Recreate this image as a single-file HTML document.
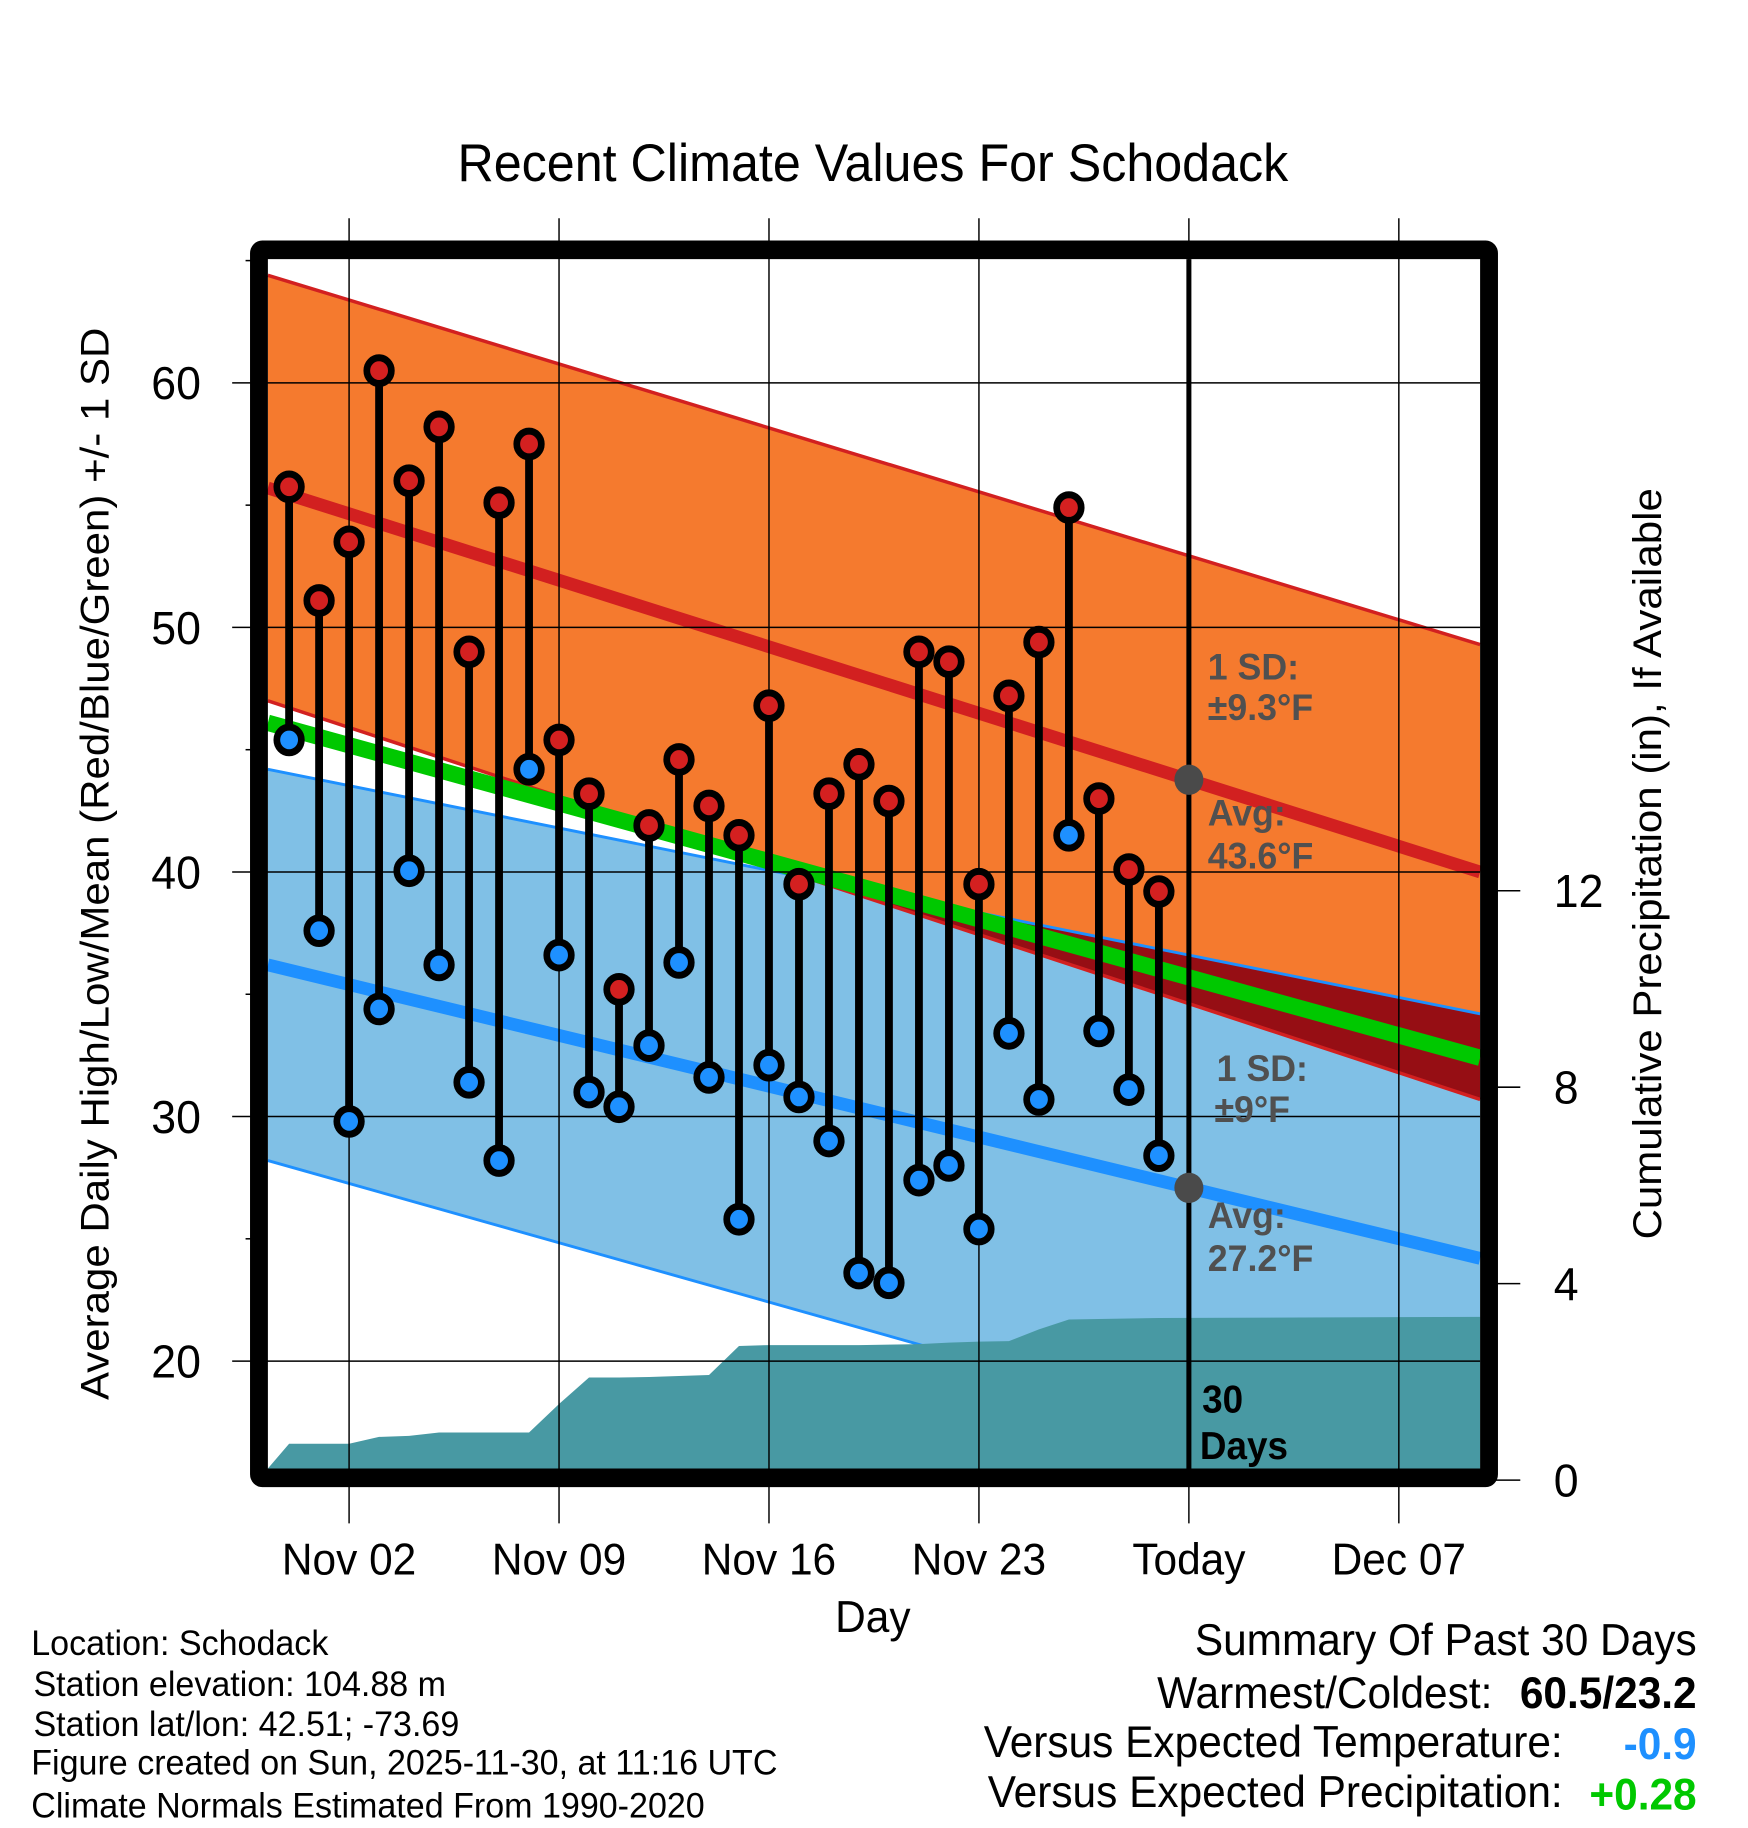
<!DOCTYPE html>
<html><head><meta charset="utf-8"><style>
html,body{margin:0;padding:0;background:#fff;}
svg{display:block;}
text{font-family:"Liberation Sans",Arial,sans-serif;}
</style></head><body>
<svg id="chart" width="1748" height="1828" viewBox="0 0 1566 1566" preserveAspectRatio="none" xmlns="http://www.w3.org/2000/svg">
<defs><clipPath id="plotclip"><rect x="236" y="218" width="1094" height="1044"/></clipPath></defs>
<g id="layer-bg" clip-path="url(#plotclip)"></g>
<g id="layer-grid"></g>
<g id="layer-marks"></g>
<g id="layer-frame"></g>
<text x="782" y="155" font-size="45" text-anchor="middle">Recent Climate Values For Schodack</text>
<text transform="translate(97,740) rotate(-90)" font-size="36" text-anchor="middle">Average Daily High/Low/Mean (Red/Blue/Green) +/- 1 SD</text>
<text transform="translate(1488,740) rotate(-90)" font-size="36" text-anchor="middle">Cumulative Precipitation (in), If Available</text>
<text x="782" y="1398" font-size="38" text-anchor="middle">Day</text>
<g font-size="32" font-weight="bold" fill="#505050">
<text x="1082" y="582">1 SD:</text><text x="1082" y="617">±9.3°F</text>
<text x="1082" y="707">Avg:</text><text x="1082" y="744">43.6°F</text>
<text x="1090" y="926">1 SD:</text><text x="1088" y="961">±9°F</text>
<text x="1082" y="1052">Avg:</text><text x="1082" y="1089">27.2°F</text>
</g>
<text x="1077" y="1210" font-size="33" font-weight="bold">30</text>
<text x="1075" y="1250" font-size="33" font-weight="bold">Days</text>
<g font-size="30.5">
<text x="28" y="1418">Location: Schodack</text>
<text x="30" y="1453">Station elevation: 104.88 m</text>
<text x="30" y="1487">Station lat/lon: 42.51; -73.69</text>
<text x="28" y="1520">Figure created on Sun, 2025-11-30, at 11:16 UTC</text>
<text x="28" y="1557">Climate Normals Estimated From 1990-2020</text>
</g>
<g font-size="38">
<text x="1520" y="1418" text-anchor="end">Summary Of Past 30 Days</text>
<text x="1337" y="1463" text-anchor="end">Warmest/Coldest:</text>
<text x="1520" y="1463" text-anchor="end" font-weight="bold">60.5/23.2</text>
<text x="1400" y="1505" text-anchor="end">Versus Expected Temperature:</text>
<text x="1520" y="1507" text-anchor="end" font-weight="bold" fill="#1e90ff">-0.9</text>
<text x="1400" y="1548" text-anchor="end">Versus Expected Precipitation:</text>
<text x="1520" y="1550" text-anchor="end" font-weight="bold" fill="#00c800">+0.28</text>
</g>
</svg>
<script>
// data (day index 0 = Oct 31)
const highs=[55.75,51.1,53.5,60.5,56.0,58.2,49.0,55.1,57.5,45.4,43.2,35.2,41.9,44.6,42.7,41.5,46.8,39.5,43.2,44.4,42.9,49.0,48.6,39.5,47.2,49.4,54.9,43.0,40.1,39.2];
const lows=[45.4,37.6,29.8,34.4,40.05,36.2,31.4,28.2,44.2,36.6,31.0,30.4,32.9,36.3,31.6,25.8,32.1,30.8,29.0,23.6,23.2,27.4,28.0,25.4,33.4,30.7,41.5,33.5,31.1,28.4];
const precip=[0.74,0.74,0.74,0.88,0.90,0.97,0.97,0.97,0.97,1.55,2.09,2.09,2.10,2.12,2.14,2.73,2.75,2.75,2.75,2.75,2.76,2.77,2.80,2.82,2.83,3.07,3.27,3.28,3.29,3.30];
const normalHigh=[55.7,40.0];   // at plot start / end
const normalHighSD=[8.7,9.3];
const normalLow=[36.2,24.2];
const normalLowSD=[8.0,10.0];
const normalMean=[46.1,32.4];
const yTicks=[20,30,40,50,60];
const yMinor=[25,35,45,55,65];
const pTicks=[0,4,8,12];
const xTickDays=[2,9,16,23,30,37]; // days since Oct 31
const xTickLabels=["Nov 02","Nov 09","Nov 16","Nov 23","Today","Dec 07"];

const NS="http://www.w3.org/2000/svg";
const L=240,R=1326,T=222,B=1258;
const x=d=>259+d*26.87;
const y=v=>328+(60-v)*20.95;
const yp=v=>1268-v*42.08;
const d0=(L-259)/26.87, d1=(R-259)/26.87;
function mk(tag,attrs,parent){const e=document.createElementNS(NS,tag);for(const k in attrs)e.setAttribute(k,attrs[k]);parent.appendChild(e);return e;}
const bg=document.getElementById('layer-bg'),grid=document.getElementById('layer-grid'),marks=document.getElementById('layer-marks'),frame=document.getElementById('layer-frame');
const lin=(a,d)=>a[0]+(a[1]-a[0])*(d-d0)/(d1-d0);
const pts=(f)=>[d0,d1].map(d=>[x(d),y(f(d))]);
const hu=d=>lin(normalHigh,d)+lin(normalHighSD,d), hl=d=>lin(normalHigh,d)-lin(normalHighSD,d);
const lu=d=>lin(normalLow,d)+lin(normalLowSD,d), ll=d=>lin(normalLow,d)-lin(normalLowSD,d);
function band(fu,fl,fill,name){
  const p=[...pts(fu),...pts(fl).reverse()].map(a=>a.join(',')).join(' ');
  const e=mk('polygon',{points:p,fill:fill},bg);
  
  
}
band(hu,hl,'#f57a2e','high-sd-band');
band(lu,ll,'#80c0e6','low-sd-band');
{
  const N=200,top=[],bot=[];
  for(let i=0;i<=N;i++){const d=d0+(d1-d0)*i/N;const a=lu(d),b=hl(d);if(a>b){top.push([x(d),y(a)]);bot.push([x(d),y(b)]);}}
  if(top.length){const e=mk('polygon',{points:[...top,...bot.reverse()].map(a=>a.join(',')).join(' '),fill:'#960e14'},bg);
  
  }
}
function line(f,color,w,name){const p=pts(f);const e=mk('line',{x1:p[0][0],y1:p[0][1],x2:p[1][0],y2:p[1][1],stroke:color,'stroke-width':w},bg);
  
  }
line(hu,'#d22020',3,'high-sd-upper');line(hl,'#d22020',3,'high-sd-lower');
line(lu,'#1e90ff',2.5,'low-sd-upper');line(ll,'#1e90ff',2.5,'low-sd-lower');
line(d=>lin(normalHigh,d),'#d22020',11,'normal-high-line');
line(d=>lin(normalLow,d),'#1e90ff',11,'normal-low-line');
line(d=>lin(normalMean,d),'#00c800',14,'normal-mean-line');
{
  const p=[[L,1258]];
  precip.forEach((v,i)=>p.push([x(i),yp(v)]));
  p.push([R,yp(precip[precip.length-1])-1]);p.push([R,1262]);p.push([L,1262]);
  const e=mk('polygon',{points:p.map(a=>a.join(',')).join(' '),fill:'#4899a3'},bg);
  
  
}
yTicks.forEach(v=>{const e=mk('line',{x1:208,x2:R,y1:y(v),y2:y(v),stroke:'#000','stroke-width':1.3},grid);
  
  
  const t=mk('text',{x:180,y:y(v)+14,'font-size':40,'text-anchor':'end'},grid);t.textContent=v;
  
  });
yMinor.forEach(v=>{const e=mk('line',{x1:220,x2:232,y1:y(v),y2:y(v),stroke:'#000','stroke-width':1.3},grid);
  
  });
pTicks.forEach(v=>{const e=mk('line',{x1:1334,x2:1362,y1:yp(v),y2:yp(v),stroke:'#000','stroke-width':1.3},grid);
  
  
  const t=mk('text',{x:1392,y:yp(v)+14,'font-size':40},grid);t.textContent=v;
  
  });
xTickDays.forEach((d,i)=>{const e=mk('line',{x1:x(d),x2:x(d),y1:187,y2:1305,stroke:'#000','stroke-width':1.3},grid);
  
  
  const t=mk('text',{x:x(d),y:1349,'font-size':38,'text-anchor':'middle'},grid);t.textContent=xTickLabels[i];
  
  });
{const e=mk('line',{x1:x(30),x2:x(30),y1:T,y2:B,stroke:'#000','stroke-width':4.5},marks);
  
  
 [lin(normalHigh,30),lin(normalLow,30)].forEach(v=>{const c=mk('circle',{cx:x(30),cy:y(v),r:13,fill:'#4a4a4a'},marks);
  
  });}
highs.forEach((h,i)=>{
  const s=mk('line',{x1:x(i),x2:x(i),y1:y(h),y2:y(lows[i]),stroke:'#000','stroke-width':7},marks);
  
  
  const a=mk('circle',{cx:x(i),cy:y(h),r:11,fill:'#d42020',stroke:'#000','stroke-width':6},marks);
  
  
  const b=mk('circle',{cx:x(i),cy:y(lows[i]),r:11,fill:'#1e90ff',stroke:'#000','stroke-width':6},marks);
  
  
});
{const e=mk('rect',{x:232,y:214,width:1102,height:1052,fill:'none',stroke:'#000','stroke-width':16,rx:3},frame);
  
  }
</script>
</body></html>
